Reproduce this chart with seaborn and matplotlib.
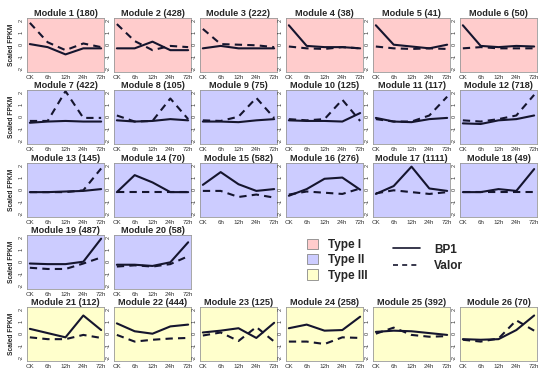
import matplotlib
matplotlib.use("Agg")
import matplotlib.pyplot as plt
import matplotlib.patches as mpatches
from matplotlib.lines import Line2D
import seaborn as sns
import pandas as pd

# time points
times = ["CK", "6h", "12h", "24h", "72h"]

# module sizes (gene counts) and type of each module
sizes = [180, 428, 222, 38, 41, 50, 422, 105, 75, 125, 117, 718,
         145, 70, 582, 276, 1111, 49, 487, 58, 112, 444, 125, 258, 392, 70]
types = ["I"] * 6 + ["II"] * 14 + ["III"] * 6

# scaled FPKM, BP1 (solid)
bp1 = [
    [0.05, -0.2, -0.8, -0.3, -0.3],
    [-0.3, -0.3, 0.25, -0.45, -0.45],
    [-0.3, -0.1, -0.3, -0.3, -0.3],
    [1.6, -0.1, -0.2, -0.2, -0.3],
    [1.6, 0.0, -0.15, -0.3, 0.0],
    [1.6, -0.1, -0.2, -0.1, -0.15],
    [-0.5, -0.4, -0.35, -0.4, -0.4],
    [-0.3, -0.4, -0.35, -0.2, -0.3],
    [-0.4, -0.4, -0.45, -0.3, -0.2],
    [-0.3, -0.35, -0.35, -0.4, 0.3],
    [-0.1, -0.4, -0.45, -0.2, -0.1],
    [-0.55, -0.6, -0.3, -0.2, 0.1],
    [-0.2, -0.2, -0.15, -0.1, 0.05],
    [-0.2, 1.2, 0.6, -0.2, -0.2],
    [0.4, 1.45, 0.45, -0.1, 0.05],
    [-0.5, 0.05, 0.9, 1.0, 0.0],
    [-0.35, 0.3, 1.9, 0.1, -0.1],
    [-0.2, -0.2, 0.05, -0.1, 1.7],
    [-0.15, -0.2, -0.2, 0.0, 1.9],
    [-0.25, -0.25, -0.35, -0.05, 1.6],
    [0.4, 0.05, -0.3, 1.5, 0.3],
    [0.85, 0.2, 0.0, 0.6, 0.75],
    [0.1, 0.25, 0.45, -0.35, 0.9],
    [0.45, 0.75, 0.25, 0.3, 1.4],
    [0.15, 0.25, 0.2, 0.05, -0.1],
    [-0.45, -0.5, -0.45, 0.3, 1.5],
]

# scaled FPKM, Valor (dashed)
valor = [
    [1.8, 0.2, -0.45, 0.1, -0.2],
    [1.7, 0.3, -0.45, -0.1, -0.2],
    [1.3, 0.05, 0.0, -0.05, -0.2],
    [-0.15, -0.3, -0.35, -0.2, -0.3],
    [-0.15, -0.3, -0.35, -0.3, -0.35],
    [-0.3, -0.2, -0.3, -0.3, -0.3],
    [-0.35, -0.35, 2.1, -0.1, -0.1],
    [0.1, -0.4, -0.35, 1.5, -0.2],
    [-0.3, -0.35, 0.0, 1.55, -0.1],
    [-0.2, -0.3, -0.2, 1.4, -0.35],
    [-0.2, -0.4, -0.4, 0.1, 1.65],
    [-0.3, -0.4, -0.2, 0.1, 1.8],
    [-0.2, -0.2, -0.2, -0.05, 1.75],
    [-0.2, -0.2, -0.2, -0.2, -0.2],
    [-0.1, -0.1, -0.6, -0.4, -0.65],
    [-0.4, -0.15, -0.25, -0.35, 0.1],
    [-0.3, -0.05, -0.2, -0.35, -0.2],
    [-0.2, -0.2, -0.2, -0.2, -0.2],
    [-0.5, -0.6, -0.6, -0.15, 0.35],
    [-0.4, -0.3, -0.4, -0.2, 0.45],
    [-0.3, -0.45, -0.45, -0.1, -0.35],
    [-0.1, -0.65, -0.5, -0.4, -0.35],
    [-0.15, 0.1, -0.6, 0.55, -0.65],
    [-0.65, -0.65, -0.85, -0.3, -0.35],
    [0.0, 0.5, -0.1, -0.25, -0.2],
    [-0.5, -0.65, -0.4, 1.1, 0.25],
]

type_colors = {"I": "#FFCCCC", "II": "#CCCCFF", "III": "#FFFFCC"}
line_color = "#15152e"

sns.set_style("white")
plt.rcParams["font.family"] = ["Liberation Sans", "DejaVu Sans"]

W, H = 547, 374
fig = plt.figure(figsize=(W / 100, H / 100), dpi=100)

col_left = [27, 114, 200, 286, 373, 460]
row_top = [18, 90, 163, 235, 307]
pw, ph = 77, 54

# grid slot of every module
slots = [(r, c) for r in range(3) for c in range(6)] + [(3, 0), (3, 1)] + [(4, c) for c in range(6)]

for i, (r, c) in enumerate(slots):
    left, top = col_left[c], row_top[r]
    ax = fig.add_axes([left / W, 1 - (top + ph) / H, pw / W, ph / H])
    ax.set_facecolor(type_colors[types[i]])
    df = pd.DataFrame({"x": range(1, 6), "BP1": bp1[i], "Valor": valor[i]})
    sns.lineplot(data=df, x="x", y="BP1", ax=ax, color=line_color, lw=1.5)
    sns.lineplot(data=df, x="x", y="Valor", ax=ax, color=line_color, lw=1.5,
                 linestyle=(0, (3.5, 2.5)))
    ax.set_xlim(0.84, 5.16)
    ax.set_ylim(-2.25, 2.2)
    ax.set_xticks(range(1, 6))
    ax.set_xticklabels(times)
    ax.set_yticks([-2, -1, 0, 1, 2])
    ax.set_yticklabels(["-2", "-1", "0", "1", "2"], rotation=90, va="center")
    ax.tick_params(axis="both", length=1.5, width=0.5, pad=0.8,
                   colors="#777777", labelcolor="#333333")
    ax.tick_params(axis="x", labelsize=4.5)
    ax.tick_params(axis="y", labelsize=4.0)
    ax.set_xlabel("")
    ax.set_ylabel("")
    for s in ax.spines.values():
        s.set_color("#999999")
        s.set_linewidth(0.6)
    ax.set_title(f"Module {i + 1} ({sizes[i]})", fontsize=6.6, fontweight="bold", pad=1.2)
    if c == 0:
        ax.set_ylabel("Scaled FPKM", fontsize=4.8, fontweight="bold", labelpad=3)

# legend: module types
type_handles = [mpatches.Patch(facecolor=type_colors[t], edgecolor="#888888", lw=0.6,
                               label=f"Type {t}") for t in ["I", "II", "III"]]
fig.legend(handles=type_handles, loc="upper left", bbox_to_anchor=(296 / W, 1 - 228 / H),
           frameon=False, prop={"size": 8.5, "weight": "bold"}, handlelength=1.0,
           handleheight=1.0, labelspacing=0.25, handletextpad=0.8)

line_handles = [Line2D([], [], color=line_color, lw=1.2, label="BP1"),
                Line2D([], [], color=line_color, lw=1.2, linestyle=(0, (3, 2.5)), label="Valor")]
fig.legend(handles=line_handles, loc="upper left", bbox_to_anchor=(382 / W, 1 - 233 / H),
           frameon=False, prop={"size": 8.5, "weight": "bold"}, handlelength=2.3,
           labelspacing=0.35, handletextpad=1.2)

fig.savefig("out.png", dpi=100)
